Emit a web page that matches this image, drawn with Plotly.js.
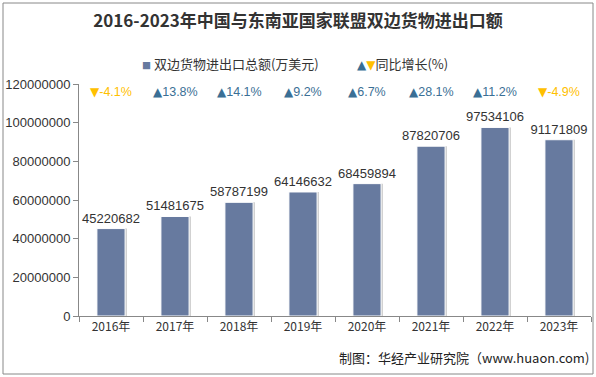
<!DOCTYPE html>
<html><head><meta charset="utf-8">
<script src="https://cdn.plot.ly/plotly-3.0.1.min.js"></script>
<style>body{margin:0;padding:0;background:#fff}#c{width:596px;height:377px}</style>
</head><body><div id="c"></div>
<script>
const years = ["2016年","2017年","2018年","2019年","2020年","2021年","2022年","2023年"];
const totals = [45220682,51481675,58787199,64146632,68459894,87820706,97534106,91171809];
const growth = [-4.1,13.8,14.1,9.2,6.7,28.1,11.2,-4.9];
const yTicks = [0,20000000,40000000,60000000,80000000,100000000,120000000];

const barColor = "#677a9f";
const upColor = "#3a6f95";
const downColor = "#ffc000";
const font = "Noto Sans CJK SC, Liberation Sans, Arial, sans-serif";

const shadow = {type:"bar", x:years, y:totals, width:0.44, offset:-0.19,
  marker:{color:"rgba(0,0,0,0.18)"}, hoverinfo:"skip", showlegend:false};
const bars = {type:"bar", x:years, y:totals, width:0.44, offset:-0.22,
  marker:{color:barColor, line:{color:"#ffffff", width:1}},
  text:totals.map(String), textposition:"outside", cliponaxis:false, constraintext:"none",
  textfont:{family:"Liberation Sans, Arial, sans-serif", size:13, color:"#333"},
  showlegend:false};

const ann = growth.map((g,i)=>({
  x:years[i], xref:"x", y:(316-92)/232, yref:"paper", yanchor:"middle", showarrow:false,
  text:"<span style='font-family:DejaVu Sans;font-size:12px'>"+(g>=0?"▲":"▼")+"</span>"+g.toFixed(1)+"%",
  font:{family:"Liberation Sans, Arial, sans-serif", size:12.5, color:g>=0?upColor:downColor}
}));
ann.push(
  {xref:"paper", yref:"paper", x:(140-79)/512, y:(316-63)/232, xanchor:"left", yanchor:"middle", showarrow:false,
   text:"<span style='color:"+barColor+";font-size:9px'>■</span> 双边货物进出口总额(万美元)", font:{family:font,size:13,color:"#333"}},
  {xref:"paper", yref:"paper", x:(355-79)/512, y:(316-63)/232, xanchor:"left", yanchor:"middle", showarrow:false,
   text:"<span style='color:"+upColor+";font-family:DejaVu Sans;font-size:12px'>▲</span><span style='color:"+downColor+";font-family:DejaVu Sans;font-size:12px'>▼</span>同比增长(%)", font:{family:font,size:13,color:"#333"}},
  {xref:"paper", yref:"paper", x:1, y:(316-357)/232, xanchor:"right", yanchor:"middle", showarrow:false,
   text:"制图：华经产业研究院（www.huaon.com)", font:{family:font,size:13,color:"#222"}}
);

const layout = {
  width:596, height:377,
  margin:{l:79, r:5, t:84, b:61},
  paper_bgcolor:"#fff", plot_bgcolor:"#fff",
  barmode:"overlay",
  title:{text:"<b>2016-2023年中国与东南亚国家联盟双边货物进出口额</b>", x:0.5, xanchor:"center", y:0.945, yanchor:"middle",
    font:{family:"Noto Sans CJK SC, sans-serif", size:17, color:"#333"}},
  xaxis:{type:"category", tickson:"boundaries", ticks:"outside", ticklen:5, tickcolor:"#888",
    showline:true, linecolor:"#888", linewidth:1, showgrid:false,
    tickfont:{family:font, size:12, color:"#333"}},
  yaxis:{range:[0,120000000], tickvals:yTicks, ticktext:yTicks.map(String), ticks:"outside", ticklen:5, tickcolor:"#888",
    showline:true, linecolor:"#888", linewidth:1, showgrid:false, zeroline:false,
    tickfont:{family:"Liberation Sans, Arial, sans-serif", size:13, color:"#333"}},
  annotations:ann,
  shapes:[{type:"rect", xref:"paper", yref:"paper", x0:-76/512, x1:(593-79)/512, y0:-58/232, y1:(316-3)/232,
    line:{color:"#888", width:1}}]
};
Plotly.newPlot("c",[shadow,bars],layout,{displayModeBar:false, staticPlot:true});
</script></body></html>
